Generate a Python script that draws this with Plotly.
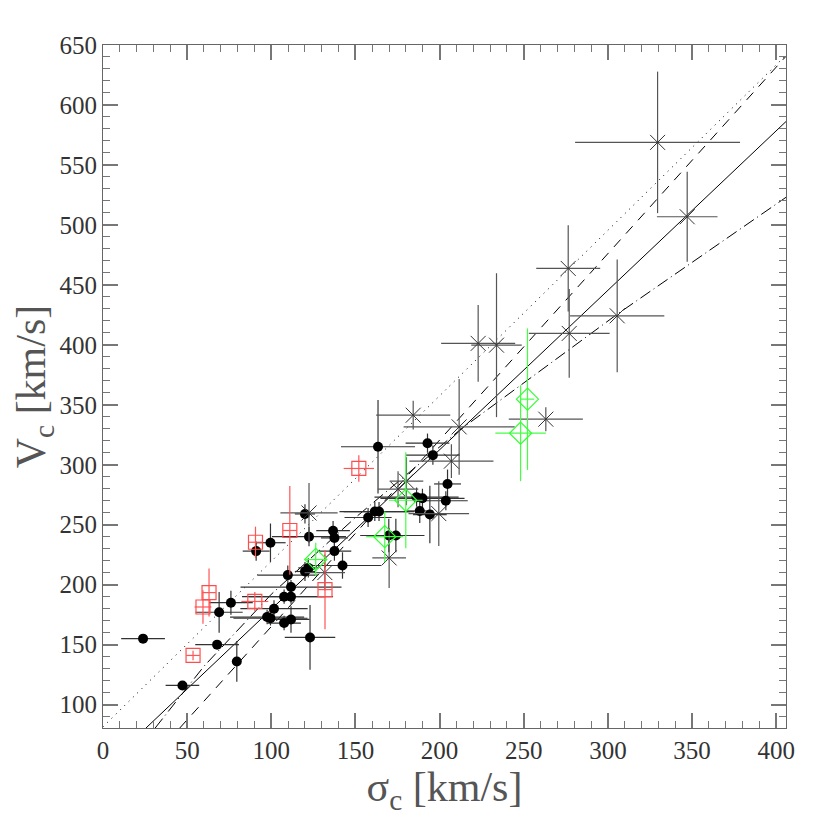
import plotly.graph_objects as go

# filled circles
circ_sig = [23.8, 47.2, 67.8, 79.5, 69.0, 76.0, 91.0, 99.5, 97.5, 99.5, 101.6, 107.6, 111.7,
            111.7, 109.8, 107.6, 111.7, 123.0, 120.0, 122.0, 120.0, 122.4, 136.7, 137.5, 137.5,
            142.3, 157.5, 161.5, 164.0, 163.4, 169.8, 174.0, 186.3, 189.8, 188.2, 194.2, 192.8,
            196.0, 204.7, 203.7]
circ_v = [155, 116, 150, 136, 177, 185, 228, 235, 173, 172, 180, 190, 190,
          198, 208, 168, 171, 156, 211, 214, 259, 240, 245, 239, 228,
          216, 256, 261, 261, 315, 241, 241, 273, 272, 261.5, 258.5, 318,
          308, 284, 270]
circ_sig_err = [13, 10, 13, 0, 14, 13, 8, 9, 22, 22, 20, 25, 25,
                30, 18, 10, 11, 15, 6, 6, 6, 22, 10, 8, 10,
                23, 14, 21, 21, 22, 17, 17, 25, 25, 8, 10, 13,
                16, 8, 13]
circ_v_err = [0, 0, 0, 17, 17, 10, 8, 16, 6, 6, 7, 6, 6,
              6, 8, 6, 11, 27, 8, 8, 8, 8, 8, 8, 8,
              11, 8, 8, 8, 39, 14, 14, 8, 8, 10, 24, 8,
              8, 12, 8]

# crosses
x_sig = [122.4, 131.8, 170.0, 175.3, 180.3, 184.3, 199.5, 207.0, 211.6, 222.9, 233.8,
         263.1, 277.0, 276.4, 305.5, 329.5, 347.1]
x_v = [259.8, 210.1, 222.3, 279.6, 286.3, 341.3, 259.3, 303.0, 331.6, 401.2, 399.7,
       338.0, 409.5, 463.7, 424.2, 568.8, 506.8]
x_sig_err = [17, 12, 10, 12, 10, 22, 18, 25, 33, 22, 15, 22, 24, 19, 28, 49, 18]
x_v_err = [25, 15, 25, 15, 20, 12, 27, 14, 40, 32, 60, 10, 37, 36, 47, 59, 37.5]

# red open squares
sq_sig = [53.5, 59.4, 63.0, 90.2, 90.6, 111.0, 131.9, 152.0]
sq_v = [141, 181.4, 193.4, 186, 235.4, 245.2, 195.9, 296.9]
sq_sig_err = [4, 5, 4, 8, 4, 4, 4, 9]
sq_v_err = [4, 14, 20, 8, 13, 37, 33, 11]

# green open diamonds
dm_sig = [126.4, 167.4, 179.9, 248.1, 252.2]
dm_v = [221, 240, 270.4, 326.3, 354.7]
dm_sig_err = [6, 11, 10, 15, 4]
dm_v_err = [14, 21, 40, 40, 59]

# fitted relations
solid_sig = [25.4, 405.8]
solid_v = [80.3, 586.2]
dashed_sig = [45.6, 405.8]
dashed_v = [80.5, 640.6]
dotted_sig = [0.0, 405.8]
dotted_v = [81.5, 641.5]
dashdot_sig = [31, 60, 100, 150, 212, 305, 405.8]
dashdot_v = [80.5, 132, 192, 256, 329, 425, 523]

fig = go.Figure()

for xs, ys, dash in [(dotted_sig, dotted_v, "1px,5px"),
                     (dashed_sig, dashed_v, "10px,8px"),
                     (solid_sig, solid_v, "solid"),
                     (dashdot_sig, dashdot_v, "12px,4px,1px,4px")]:
    fig.add_trace(go.Scatter(x=xs, y=ys, mode='lines',
                             line=dict(color='black', width=1, dash=dash)))

fig.add_trace(go.Scatter(
    x=circ_sig, y=circ_v, mode='markers',
    marker=dict(symbol='circle', size=10, color='black'),
    error_x=dict(array=circ_sig_err, width=0, thickness=1.2, color='#333333'),
    error_y=dict(array=circ_v_err, width=0, thickness=1.2, color='#333333'),
))
fig.add_trace(go.Scatter(
    x=x_sig, y=x_v, mode='markers',
    marker=dict(symbol='x-thin-open', size=15, color='#333333', line=dict(color='#333333', width=1)),
    error_x=dict(array=x_sig_err, width=0, thickness=1.2, color='#555555'),
    error_y=dict(array=x_v_err, width=0, thickness=1.2, color='#555555'),
))
fig.add_trace(go.Scatter(
    x=sq_sig, y=sq_v, mode='markers',
    marker=dict(symbol='square-open', size=14, color='#ff4d4d', line=dict(width=1.2)),
    error_x=dict(array=sq_sig_err, width=0, thickness=1.2, color='#ff5555'),
    error_y=dict(array=sq_v_err, width=0, thickness=1.2, color='#ff5555'),
))
fig.add_trace(go.Scatter(
    x=dm_sig, y=dm_v, mode='markers',
    marker=dict(symbol='diamond-open', size=17, color='#33ff33', line=dict(width=1.2)),
    error_x=dict(array=dm_sig_err, width=0, thickness=1.2, color='#44ff44'),
    error_y=dict(array=dm_v_err, width=0, thickness=1.2, color='#44ff44'),
))

axis_common = dict(
    showgrid=False, zeroline=False, showline=True, linecolor='#666666', linewidth=1.2,
    mirror='ticks', ticks='inside', ticklen=15, tickwidth=1.5, tickcolor='#777777',
    tickfont=dict(family='Liberation Serif', size=25, color='#333333'),
    minor=dict(ticks='inside', ticklen=7, tickwidth=1.2, tickcolor='#777777', dtick=10),
)

fig.update_layout(
    width=830, height=830,
    margin=dict(l=95, r=52, t=37, b=110),
    paper_bgcolor='white', plot_bgcolor='white',
    showlegend=False,
    xaxis=dict(range=[0, 405.8], dtick=50, tick0=0,
               title=dict(text='σ<sub>c</sub> [km/s]', standoff=6,
                          font=dict(family='Liberation Serif', size=42, color='#555555')),
               **axis_common),
    yaxis=dict(range=[80.5, 650], dtick=50, tick0=0,
               title=dict(text='V<sub>c</sub> [km/s]', standoff=6,
                          font=dict(family='Liberation Serif', size=42, color='#555555')),
               **axis_common),
)

fig.write_html("out.html")
